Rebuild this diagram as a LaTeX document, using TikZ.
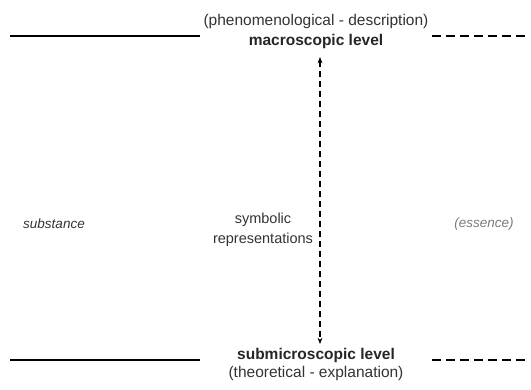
\documentclass[tikz,border=0pt]{standalone}
\usepackage{fontspec}
\setmainfont{Liberation Sans}
\usepackage{xcolor}
\usepackage{tikz}
\usetikzlibrary{arrows.meta}
\definecolor{txt}{HTML}{333333}
\definecolor{ess}{HTML}{7A7A7A}
\tikzset{
  lvl/.style={line width=1.8pt},
  lvldash/.style={line width=1.8pt,dash pattern=on 9pt off 5pt},
  rep/.style={line width=1.5pt,dash pattern=on 6.5pt off 3.5pt,{Stealth[length=2.2mm,width=1.7mm]}-{Stealth[length=2.2mm,width=1.7mm]}},
  lab/.style={text=txt,font=\fontsize{15.5}{20}\selectfont,inner sep=1pt},
  mid/.style={text=txt,font=\fontsize{14.5}{20}\selectfont,inner sep=1pt},
  side/.style={text=txt,font=\fontsize{13.5}{20}\selectfont\itshape,inner sep=1pt},
  lvlname/.style={text=black!85,font=\fontsize{15.5}{20}\selectfont\bfseries,inner sep=1pt}
}
\begin{document}
\begin{tikzpicture}[x=1pt,y=1pt]
\useasboundingbox (0,0) rectangle (531,390);
% top: macroscopic level
\node[lab] (phen) at (316,368) {(phenomenological - description)};
\node[lvlname] (macro) at (316,348) {macroscopic level};
\coordinate (tl1) at (10,354); \coordinate (tl2) at (200,354);
\coordinate (tr1) at (432,354); \coordinate (tr2) at (528,354);
\draw[lvl] (tl1) -- (tl2);
\draw[lvldash] (tr1) -- (tr2);
% bottom: submicroscopic level
\node[lvlname] (sub) at (316,35) {submicroscopic level};
\node[lab] (theo) at (316,17) {(theoretical - explanation)};
\coordinate (bl1) at (10,30); \coordinate (bl2) at (200,30);
\coordinate (br1) at (432,30); \coordinate (br2) at (528,30);
\draw[lvl] (bl1) -- (bl2);
\draw[lvldash] (br1) -- (br2);
% middle
\node[mid,align=center] (symb) at (263,160) {symbolic\\representations};
\node[side] (substance) at (54,166) {substance};
\node[side,text=ess] (essence) at (484,166) {(essence)};
\coordinate (atop) at (320,333); \coordinate (abot) at (320,46);
\draw[rep] (atop) -- (abot);
\end{tikzpicture}
\end{document}
